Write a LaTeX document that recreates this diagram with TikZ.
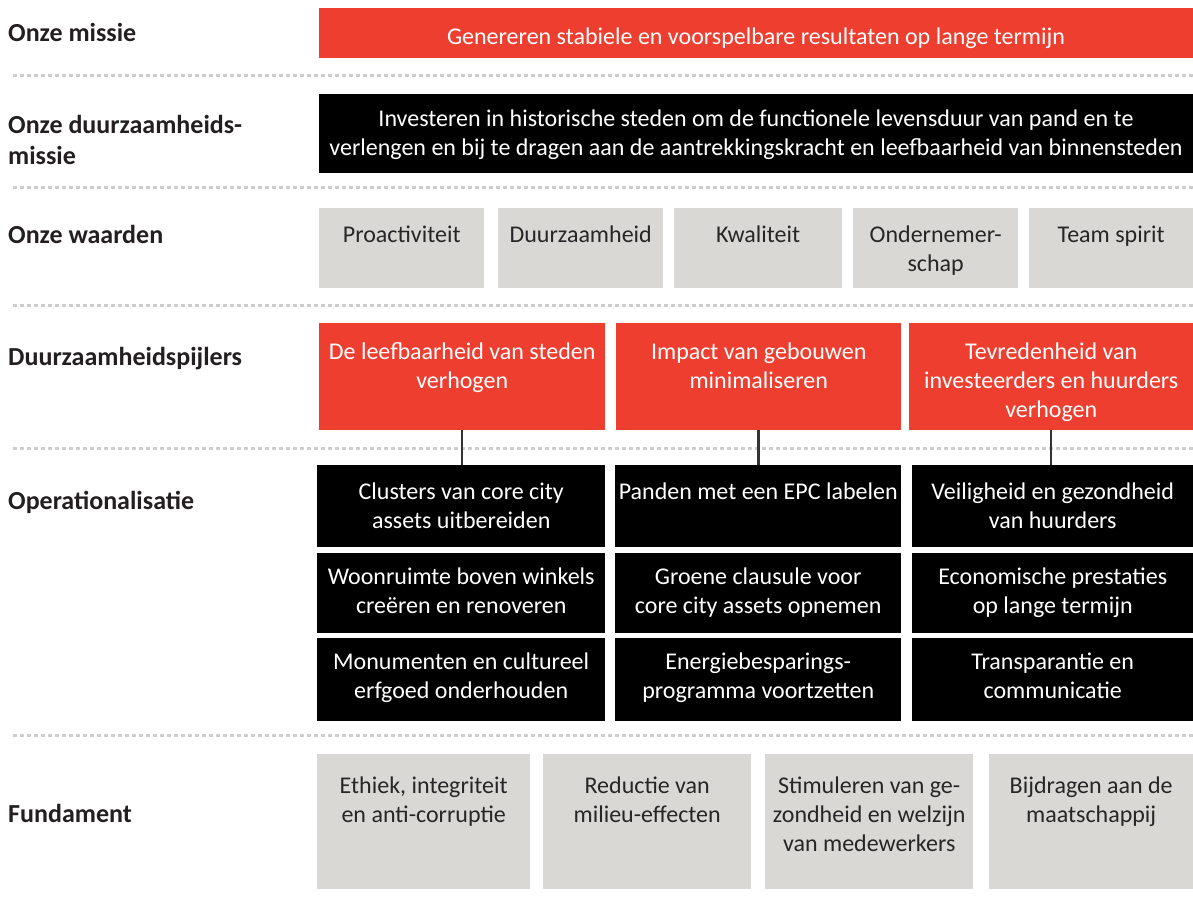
\documentclass[tikz,border=0pt]{standalone}
\usepackage{fontspec}
\setmainfont{Carlito}
\definecolor{cred}{HTML}{EE3E2F}
\definecolor{cgray}{HTML}{D9D8D4}
\definecolor{cdark}{HTML}{262626}
\definecolor{clabel}{HTML}{231F20}
\definecolor{csep}{HTML}{CDCDCD}
\definecolor{cconn}{HTML}{333333}
\begin{document}
\begin{tikzpicture}[x=1pt,y=-1pt,
  boxr/.style={fill=cred,draw=none,anchor=north west,inner sep=0pt},
  boxk/.style={fill=black,draw=none,anchor=north west,inner sep=0pt},
  boxg/.style={fill=cgray,draw=none,anchor=north west,inner sep=0pt},
  txt/.style={align=center,inner sep=0pt,anchor=north,font=\fontsize{24}{29}\selectfont},
  wtxt/.style={txt,text=white},
  gtxt/.style={txt,text=cdark},
  lbl/.style={anchor=base west,inner sep=0pt,align=left,text=clabel,font=\fontsize{26}{31}\selectfont\bfseries},
  sep/.style={draw=csep,line width=3pt,dash pattern=on 4pt off 3pt},
  conn/.style={draw=cconn,line width=2.5pt}
]
\useasboundingbox (0,0) rectangle (1193,906);

% separators
\coordinate (s1a) at (13,75);  \coordinate (s1b) at (1193,75);
\coordinate (s2a) at (13,187); \coordinate (s2b) at (1193,187);
\coordinate (s3a) at (13,305); \coordinate (s3b) at (1193,305);
\coordinate (s4a) at (13,448); \coordinate (s4b) at (1193,448);
\coordinate (s5a) at (13,735); \coordinate (s5b) at (1193,735);
\foreach \s in {1,...,5}{\draw[sep] (s\s a) -- (s\s b);}

% labels
\node[lbl] (l1) at (8,41) {Onze missie};
\node[lbl,anchor=base west] (l2) at (8,133) {Onze duurzaamheids-};
\node[lbl] (l2b) at (8,164) {missie};
\node[lbl] (l3) at (8,243) {Onze waarden};
\node[lbl] (l4) at (8,365) {Duurzaamheidspijlers};
\node[lbl] (l5) at (8,509) {Operationalisatie};
\node[lbl] (l6) at (8,822) {Fundament};

% mission
\node[boxr,minimum width=874pt,minimum height=50pt] (m) at (319,8) {};
\node[wtxt] (mt) at (756,23.7) {\strut Genereren stabiele en voorspelbare resultaten op lange termijn};

% sustainability mission
\node[boxk,minimum width=874pt,minimum height=79pt] (dm) at (319,94) {};
\node[wtxt] (dmt) at (756,105.7) {\strut Investeren in historische steden om de functionele levensduur van pand en te\\verlengen en bij te dragen aan de aantrekkingskracht en leefbaarheid van binnensteden};

% values
\node[boxg,minimum width=165pt,minimum height=80pt] (v1) at (319,208) {};
\node[boxg,minimum width=165pt,minimum height=80pt] (v2) at (498,208) {};
\node[boxg,minimum width=168pt,minimum height=80pt] (v3) at (674,208) {};
\node[boxg,minimum width=165pt,minimum height=80pt] (v4) at (853,208) {};
\node[boxg,minimum width=164pt,minimum height=80pt] (v5) at (1029,208) {};
\node[gtxt] (v1t) at (v1.north |- 0,221.7) {\strut Proactiviteit};
\node[gtxt] (v2t) at (v2.north |- 0,221.7) {\strut Duurzaamheid};
\node[gtxt] (v3t) at (v3.north |- 0,221.7) {\strut Kwaliteit};
\node[gtxt] (v4t) at (v4.north |- 0,221.7) {\strut Ondernemer-\\schap};
\node[gtxt] (v5t) at (v5.north |- 0,221.7) {\strut Team spirit};

% pillars
\node[boxr,minimum width=286pt,minimum height=107pt] (p1) at (319,323) {};
\node[boxr,minimum width=285pt,minimum height=107pt] (p2) at (616,323) {};
\node[boxr,minimum width=284pt,minimum height=107pt] (p3) at (909,323) {};
\node[wtxt] (p1t) at (p1.north |- 0,338.7) {\strut De leefbaarheid van steden\\verhogen};
\node[wtxt] (p2t) at (p2.north |- 0,338.7) {\strut Impact van gebouwen\\minimaliseren};
\node[wtxt] (p3t) at (p3.north |- 0,338.7) {\strut Tevredenheid van\\investeerders en huurders\\verhogen};

% operationalisation
\node[boxk,minimum width=288pt,minimum height=82pt] (o11) at (317,465) {};
\node[boxk,minimum width=286pt,minimum height=82pt] (o12) at (615,465) {};
\node[boxk,minimum width=281pt,minimum height=82pt] (o13) at (912,465) {};
\node[boxk,minimum width=288pt,minimum height=80pt] (o21) at (317,553) {};
\node[boxk,minimum width=286pt,minimum height=80pt] (o22) at (615,553) {};
\node[boxk,minimum width=281pt,minimum height=80pt] (o23) at (912,553) {};
\node[boxk,minimum width=288pt,minimum height=83pt] (o31) at (317,638) {};
\node[boxk,minimum width=286pt,minimum height=83pt] (o32) at (615,638) {};
\node[boxk,minimum width=281pt,minimum height=83pt] (o33) at (912,638) {};
\node[wtxt] (o11t) at (o11.north |- 0,478.7) {\strut Clusters van core city\\assets uitbereiden};
\node[wtxt] (o12t) at (o12.north |- 0,478.7) {\strut Panden met een EPC labelen};
\node[wtxt] (o13t) at (o13.north |- 0,478.7) {\strut Veiligheid en gezondheid\\van huurders};
\node[wtxt] (o21t) at (o21.north |- 0,563.7) {\strut Woonruimte boven winkels\\creëren en renoveren};
\node[wtxt] (o22t) at (o22.north |- 0,563.7) {\strut Groene clausule voor\\core city assets opnemen};
\node[wtxt] (o23t) at (o23.north |- 0,563.7) {\strut Economische prestaties\\op lange termijn};
\node[wtxt] (o31t) at (o31.north |- 0,648.7) {\strut Monumenten en cultureel\\erfgoed onderhouden};
\node[wtxt] (o32t) at (o32.north |- 0,648.7) {\strut Energiebesparings-\\programma voortzetten};
\node[wtxt] (o33t) at (o33.north |- 0,648.7) {\strut Transparantie en\\communicatie};

% connectors
\draw[conn] (p1.south) -- (p1.south |- o11.north);
\draw[conn] (p2.south) -- (p2.south |- o12.north);
\draw[conn] (p3.south) -- (p3.south |- o13.north);

% foundation
\node[boxg,minimum width=213pt,minimum height=135pt] (f1) at (317,754) {};
\node[boxg,minimum width=208pt,minimum height=135pt] (f2) at (543,754) {};
\node[boxg,minimum width=208pt,minimum height=135pt] (f3) at (765,754) {};
\node[boxg,minimum width=204pt,minimum height=135pt] (f4) at (989,754) {};
\node[gtxt] (f1t) at (f1.north |- 0,772.7) {\strut Ethiek, integriteit\\en anti-corruptie};
\node[gtxt] (f2t) at (f2.north |- 0,772.7) {\strut Reductie van\\milieu-effecten};
\node[gtxt] (f3t) at (f3.north |- 0,772.7) {\strut Stimuleren van ge-\\zondheid en welzijn\\van medewerkers};
\node[gtxt] (f4t) at (f4.north |- 0,772.7) {\strut Bijdragen aan de\\maatschappij};
\end{tikzpicture}
\end{document}
